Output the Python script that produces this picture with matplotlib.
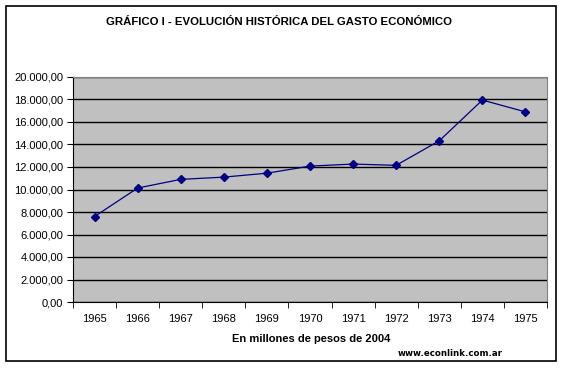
import matplotlib
matplotlib.use("Agg")
import matplotlib.pyplot as plt
from matplotlib.ticker import FuncFormatter
from matplotlib.patches import Rectangle

years = ["1965", "1966", "1967", "1968", "1969", "1970", "1971", "1972", "1973", "1974", "1975"]
gasto = [7600, 10130, 10900, 11100, 11450, 12080, 12260, 12150, 14330, 17950, 16900]
yticks = [0, 2000, 4000, 6000, 8000, 10000, 12000, 14000, 16000, 18000, 20000]

W, H = 564, 368
fig = plt.figure(figsize=(W/100, H/100), dpi=100)
fig.patch.set_facecolor("white")

# outer border
fig.patches.append(Rectangle((6/W, 1 - 361/H), 550/W, 355/H, transform=fig.transFigure,
                             fill=False, edgecolor="black", linewidth=1.2))

ax = fig.add_axes([73/W, 1 - 302/H, 474/W, 225/H])
ax.set_facecolor("#C0C0C0")
x = list(range(len(years)))
ax.plot(x, gasto, color="#000080", linewidth=0.9, marker="D", markersize=4,
        markerfacecolor="#000080", markeredgecolor="#000080")
ax.set_xlim(-0.5, len(years) - 0.5)
ax.set_ylim(0, 20000)
ax.set_yticks(yticks)
ax.yaxis.set_major_formatter(FuncFormatter(
    lambda v, p: f"{v:,.2f}".replace(",", "X").replace(".", ",").replace("X", ".")))
ax.set_xticks(x)
ax.set_xticklabels(years)
ax.set_xticks([i - 0.5 for i in range(len(years) + 1)], minor=True)
ax.tick_params(axis="x", which="major", length=0, pad=9, labelsize=8)
ax.tick_params(axis="x", which="minor", length=4, direction="out", color="black")
ax.tick_params(axis="y", length=4, direction="out", labelsize=8, pad=3)
ax.grid(axis="y", color="black", linewidth=1.0)
ax.set_axisbelow(True)
for s in ["top", "right"]:
    ax.spines[s].set_color("#808080")
for s in ["left", "bottom"]:
    ax.spines[s].set_color("black")
for lab in ax.get_xticklabels() + ax.get_yticklabels():
    lab.set_fontfamily(["Liberation Sans", "DejaVu Sans"])

title = fig.text(279/W, 1 - 22/H, "GRÁFICO I - EVOLUCIÓN HISTÓRICA DEL GASTO ECONÓMICO",
                 ha="center", va="center", fontsize=8.2, fontweight="bold",
                 family=["Liberation Sans Narrow", "Liberation Sans", "DejaVu Sans"])
fig.text(311/W, 1 - 339/H, "En millones de pesos de 2004", ha="center", va="center",
         fontsize=8, fontweight="bold", family=["Liberation Sans", "DejaVu Sans"])
fig.text(503/W, 1 - 353/H, "www.econlink.com.ar", ha="right", va="center",
         fontsize=6.2, fontweight="bold", family=["DejaVu Sans"])

fig.savefig("out.png", dpi=100)
